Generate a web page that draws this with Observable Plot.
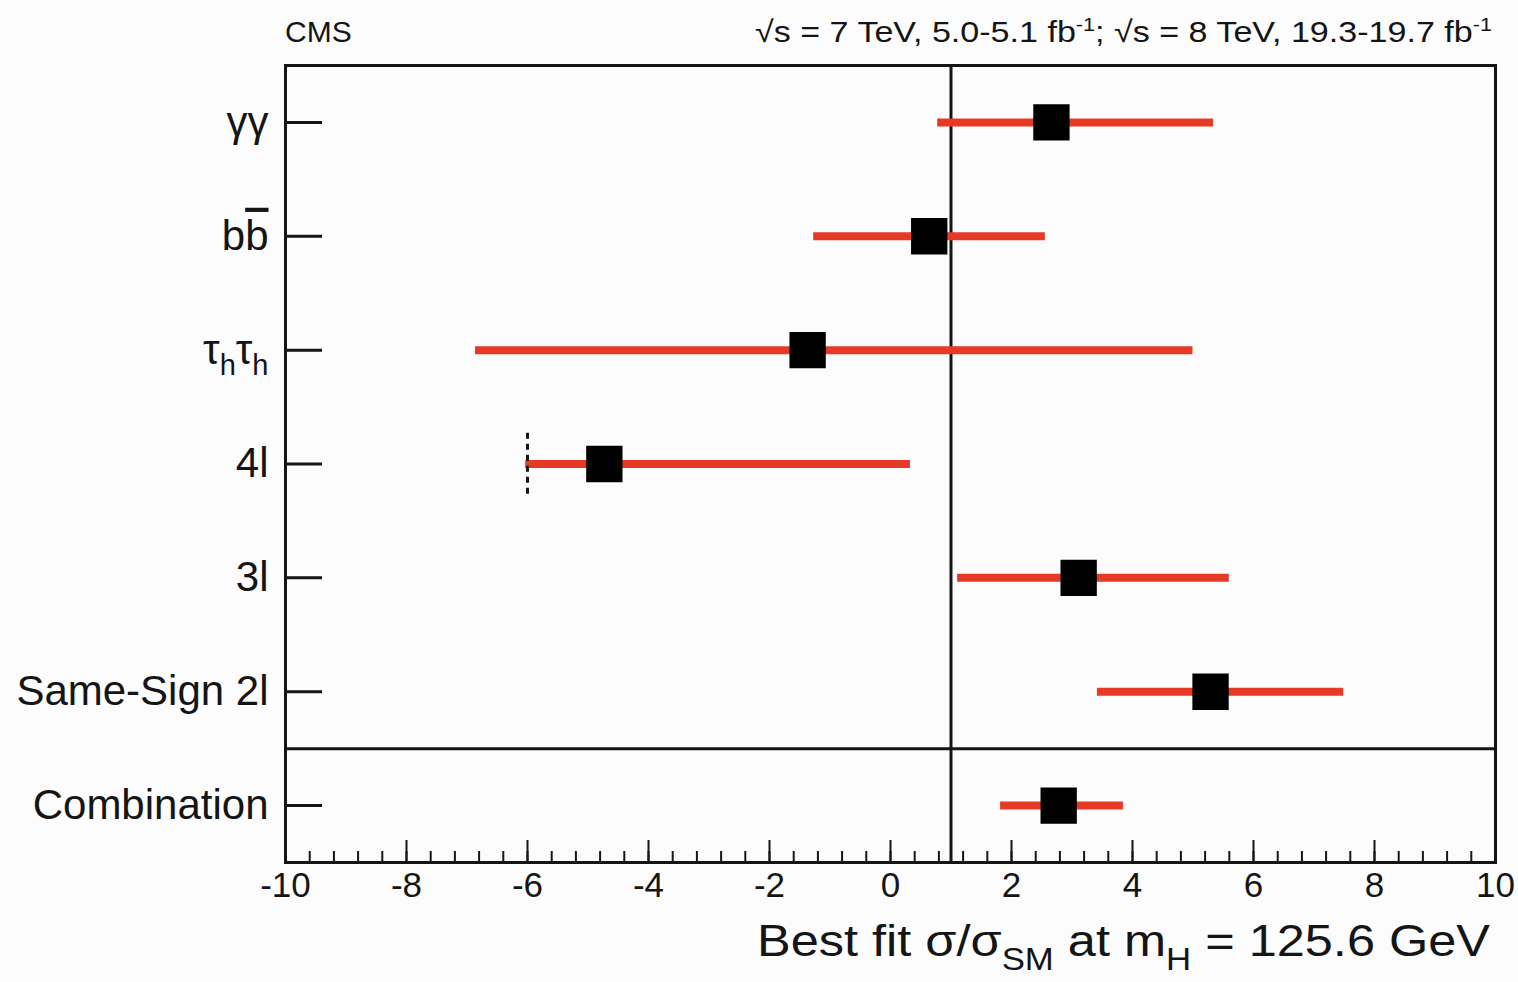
<!DOCTYPE html>
<html><head><meta charset="utf-8">
<script src="https://cdn.jsdelivr.net/npm/d3@7"></script>
<script src="https://cdn.jsdelivr.net/npm/@observablehq/plot@0.6"></script>
<style>
body{margin:0;background:#fcfcfc;}
#chart{width:1518px;height:982px;}
</style></head><body><div id="chart"></div>
<script>
// Channels (top to bottom)
const channels = ["γγ", "bb̄", "τhτh", "4l", "3l", "Same-Sign 2l", "Combination"];
// Best-fit signal strength and 68% interval ends
const bestFit = [2.66, 0.64, -1.37, -4.73, 3.11, 5.29, 2.78];
const lower   = [0.78, -1.27, -6.86, -6.03, 1.11, 3.42, 1.82];
const upper   = [5.34, 2.56, 5.00, 0.33, 5.60, 7.49, 3.85];
// Physical boundary marker (dashed) for the 4l channel
const boundaryChannel = ["4l"];
const boundaryX = [-6];
const smValue = [1];
const xTickValues = [-10, -8, -6, -4, -2, 0, 2, 4, 6, 8, 10];
const xMinorStep = 0.4;

const rows = channels.map((c, i) => ({channel: c, idx: i, mu: bestFit[i], lo: lower[i], hi: upper[i]}));
const boundary = boundaryChannel.map((c, i) => ({idx: channels.indexOf(c), x: boundaryX[i]}));
const xMinor = d3.range(0, Math.round(20 / xMinorStep) + 1).map(i => +(-10 + i * xMinorStep).toFixed(2));
const yIdx = d3.range(channels.length);
const sepY = [channels.length - 1.5];

const red = "#e63a26";
const ink = "#151515";
const font = "'Liberation Sans', Arial, Helvetica, sans-serif";

const svg = Plot.plot({
  width: 1518, height: 982,
  marginLeft: 285, marginRight: 23, marginTop: 65, marginBottom: 120,
  style: {background: "#fcfcfc", color: ink, fontFamily: font},
  x: {domain: [-10, 10]},
  y: {domain: [-0.5, channels.length - 0.5], reverse: true},
  marks: [
    Plot.ruleX(smValue, {stroke: ink, strokeWidth: 3}),
    Plot.ruleY(sepY, {stroke: ink, strokeWidth: 3}),
    Plot.ruleY(rows, {y: "idx", x1: "lo", x2: "hi", stroke: red, strokeWidth: 8}),
    Plot.ruleX(boundary, {x: "x", y1: d => d.idx - 0.27, y2: d => d.idx + 0.27, stroke: ink, strokeWidth: 3, strokeDasharray: "6,5"}),
    Plot.dot(rows, {x: "mu", y: "idx", symbol: "square", r: 20.5, fill: "black", stroke: null}),
    Plot.axisX({ticks: xTickValues, tickSize: 0, tickPadding: 10, fontSize: 35, tickFormat: d => String(d), label: null}),
    Plot.axisX({ticks: xTickValues, tickSize: -22, strokeWidth: 2, tickFormat: () => "", label: null}),
    Plot.axisX({ticks: xMinor, tickSize: -11, strokeWidth: 2, tickFormat: () => "", label: null}),
    Plot.axisY({ticks: yIdx, tickSize: 0, tickPadding: 17, fontSize: 42, tickFormat: i => channels[i], label: null}),
    Plot.axisY({ticks: yIdx, tickSize: -37, strokeWidth: 3, tickFormat: () => "", label: null}),
    Plot.frame({stroke: ink, strokeWidth: 3})
  ]
});
document.getElementById("chart").appendChild(svg);

const s = d3.select(svg);
// Rich labels for channel names
s.selectAll("text").each(function() {
  const t = d3.select(this);
  const txt = t.text();
  if (txt === "τhτh") {
    t.text("");
    t.append("tspan").text("τ");
    t.append("tspan").attr("dy", 11).attr("font-size", 29).text("h");
    t.append("tspan").attr("dy", -11).text("τ");
    t.append("tspan").attr("dy", 11).attr("font-size", 29).text("h");
  } else if (txt === "bb̄") {
    t.text("");
    t.append("tspan").text("b");
    t.append("tspan").attr("text-decoration", "overline").text("b");
  }
});

s.append("text").attr("x", 285).attr("y", 42).attr("text-anchor", "start")
  .attr("font-size", 30).attr("font-family", font).attr("fill", ink).text("CMS");

const hdr = s.append("text").attr("x", 755).attr("y", 42).attr("text-anchor", "start")
  .attr("font-size", 30).attr("font-family", font).attr("fill", ink)
  .attr("textLength", 737).attr("lengthAdjust", "spacingAndGlyphs");
hdr.append("tspan").text("√s = 7 TeV, 5.0-5.1 fb");
hdr.append("tspan").attr("dy", -11).attr("font-size", 19).text("-1");
hdr.append("tspan").attr("dy", 11).text("; √s = 8 TeV, 19.3-19.7 fb");
hdr.append("tspan").attr("dy", -11).attr("font-size", 19).text("-1");

const xl = s.append("text").attr("x", 757).attr("y", 956).attr("text-anchor", "start")
  .attr("font-size", 45).attr("font-family", font).attr("fill", ink)
  .attr("textLength", 733).attr("lengthAdjust", "spacingAndGlyphs");
xl.append("tspan").text("Best fit σ/σ");
xl.append("tspan").attr("dy", 14).attr("font-size", 31).text("SM");
xl.append("tspan").attr("dy", -14).text(" at m");
xl.append("tspan").attr("dy", 14).attr("font-size", 31).text("H");
xl.append("tspan").attr("dy", -14).text(" = 125.6 GeV");
</script>
</body></html>
